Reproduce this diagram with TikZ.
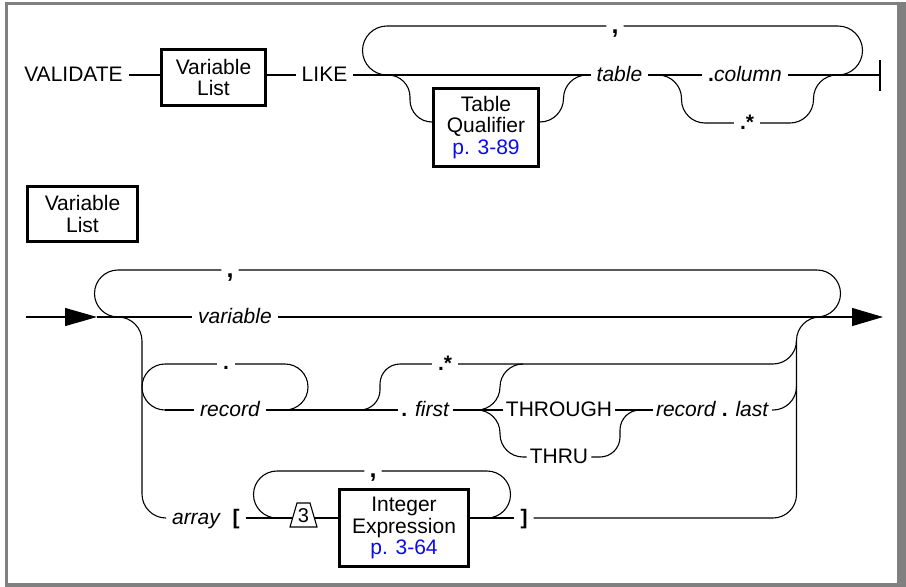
\documentclass[tikz,border=0pt]{standalone}
\usepackage{fontspec}
\setmainfont{Liberation Sans}
\usetikzlibrary{arrows.meta}
\definecolor{framegray}{RGB}{128,128,128}
\definecolor{linkblue}{RGB}{10,10,240}
\tikzset{
  lbl/.style={font=\fontsize{21}{21}\selectfont, inner xsep=6pt, inner ysep=0pt, text height=12pt, text depth=0pt},
  tight/.style={inner xsep=3pt},
  cma/.style={lbl, inner xsep=5pt, font=\fontsize{25}{25}\selectfont\bfseries},
  boxn/.style={draw, line width=3pt, align=center, font=\fontsize{21}{21.5}\selectfont, inner sep=0pt},
  wire/.style={line width=1.1pt},
  tipin/.style={-{Triangle[length=32pt,width=18pt]}}
}
\begin{document}
\begin{tikzpicture}[x=1pt,y=-1pt]
\useasboundingbox (0,0) rectangle (906,587);
\fill[white] (0,0) rectangle (906,587);
\fill[framegray] (5,2) rectangle (906,587);
\fill[white] (8,4.5) rectangle (897,583);

% ---------- Row 1 ----------
\node[lbl] (validate) at (73.5,75) {VALIDATE};
\node[boxn, minimum width=104, minimum height=56] (vl1) at (213.5,77.5) {Variable\\List};
\node[lbl] (like) at (324.5,75) {LIKE};
\node[boxn, minimum width=105, minimum height=78] (tq) at (486,127.5) {Table\\Qualifier\\\textcolor{linkblue}{p. 3-89}};
\node[cma] (c1) at (615,27) {,};
\node[lbl] (table) at (619.5,75) {\itshape table};
\node[lbl] (col) at (745,75) {\textbf{.}\textit{column}};
\node[lbl] (star1) at (747,123) {\textbf{.*}};
\coordinate (endbar) at (880,75);

\draw[wire] (validate.east) -- (validate.east -| vl1.west);
\draw[wire] (vl1.east |- like.west) -- (like.west);
\draw[wire] (like.east) -- (table.west);
\draw[wire] (table.east) -- (col.west);
\draw[wire] (col.east) -- (endbar);
\draw[line width=1.5pt] (880,60) -- (880,91);
% comma loop
\draw[wire] (387,75) arc[start angle=90,end angle=270,radius=24.5] -- (c1.west |- 0,26);
\draw[wire] (c1.east |- 0,26) -- (838,26) arc[start angle=-90,end angle=90,radius=24.5];
% table qualifier branch
\draw[wire] (388,75) arc[start angle=-90,end angle=0,radius=22] -- (410,100)
  arc[start angle=180,end angle=90,radius=22] -- ([yshift=5.5pt]tq.west);
\draw[wire] ([yshift=5.5pt]tq.east) -- (540,122) arc[start angle=90,end angle=0,radius=23.5]
  arc[start angle=180,end angle=270,radius=23.5];
% .* branch
\draw[wire] (658,75) arc[start angle=-90,end angle=0,radius=23.5] -- (681.5,99.5)
  arc[start angle=180,end angle=90,radius=23.5] -- (star1.west);
\draw[wire] (star1.east) -- (790,123) arc[start angle=90,end angle=0,radius=23.5] -- (813.5,98.5)
  arc[start angle=180,end angle=270,radius=23.5];

% ---------- Variable List definition ----------
\node[boxn, minimum width=110, minimum height=55] (vl2) at (82.5,214) {Variable\\List};

\coordinate (start) at (26,317);
\coordinate (entry) at (97,317);
\coordinate (exit) at (883,317);
\node[cma] (c2) at (230,271) {,};
\node[lbl] (var) at (235,317) {\itshape variable};
\draw[wire, tipin] (start) -- (entry);
\draw[wire] (entry) -- (var.west);
\draw[wire, -{Triangle[length=31pt,width=18pt]}] (var.east) -- (exit);
% comma loop
\draw[wire] (118,317) arc[start angle=90,end angle=270,radius=23.5] -- (c2.west |- 0,270);
\draw[wire] (c2.east |- 0,270) -- (817,270) arc[start angle=-90,end angle=90,radius=23.5];

% down branch to array
\node[lbl] (array) at (196,518) {\itshape array};
\draw[wire] (118,317) arc[start angle=-90,end angle=0,radius=24] -- (142,494)
  arc[start angle=180,end angle=90,radius=24] -- (array.west);

% record loop
\node[lbl] (dot) at (226,363) {\textbf{.}};
\node[lbl] (rec) at (230,410) {\itshape record};
\node[lbl, tight] (first) at (425.5,410) {\textbf{.} \textit{first}};
\draw[wire] (165,410) arc[start angle=90,end angle=270,radius=23] -- (dot.west |- 0,364);
\draw[wire] (dot.east |- 0,364) -- (285,364) arc[start angle=-90,end angle=90,radius=23];
\draw[wire] (165,410) -- (rec.west);
\draw[wire] (rec.east) -- (first.west);

% .* branch
\node[lbl] (star2) at (445,364) {\textbf{.*}};
\draw[wire] (360,410) arc[start angle=90,end angle=0,radius=20] -- (380,384)
  arc[start angle=180,end angle=270,radius=20] -- (star2.west);
\draw[wire] (star2.east) -- (773,364) arc[start angle=90,end angle=0,radius=23.5]
  arc[start angle=180,end angle=270,radius=23.5];

% THROUGH / THRU
\node[lbl, tight] (through) at (559,410) {THROUGH};
\node[lbl, tight] (thru) at (559,457) {THRU};
\node[lbl, tight] (last) at (712.5,410) {\textit{record} \textbf{.} \textit{last}};
\draw[wire] (first.east) -- (through.west);
\draw[wire] (477,410) arc[start angle=90,end angle=0,radius=23]
  arc[start angle=180,end angle=270,radius=23];
\draw[wire] (477,410) arc[start angle=-90,end angle=0,radius=23] -- (500,434)
  arc[start angle=180,end angle=90,radius=23] -- (thru.west);
\draw[wire] (thru.east) -- (600,457) arc[start angle=90,end angle=0,radius=20] -- (620,430)
  arc[start angle=180,end angle=270,radius=20];
\draw[wire] (through.east) -- (last.west);
\draw[wire] (last.east) -- (773,410) arc[start angle=90,end angle=0,radius=23.5];

% right return
\node[lbl] (rb) at (524,518) {\textbf{]}};
\draw[wire] (796.5,340.5) -- (796.5,494.5) arc[start angle=0,end angle=90,radius=23.5] -- (rb.east);

% array row
\node[lbl] (lb) at (236,518) {\textbf{[}};
\node[boxn, minimum width=129, minimum height=77] (ie) at (404,528) {Integer\\Expression\\\textcolor{linkblue}{p. 3-64}};
\node[cma] (c3) at (373,471) {,};
\coordinate (t3w) at (292.6,518);
\coordinate (t3e) at (314.4,518);
\draw[wire] (lb.east) -- (t3w);
\draw[wire, fill=white] (290,527) -- (297,503) -- (310,503) -- (317,527) -- cycle;
\node[font=\fontsize{20}{20}\selectfont, inner sep=0pt] (three) at (303.5,516) {3};
\draw[wire] (t3e) -- ([yshift=10pt]ie.west);
\draw[wire] ([yshift=10pt]ie.east) -- (rb.west);
\draw[wire] (277,518) arc[start angle=90,end angle=270,radius=23.5] -- (c3.west |- 0,471);
\draw[wire] (c3.east |- 0,471) -- (487,471) arc[start angle=-90,end angle=90,radius=23.5];
\end{tikzpicture}
\end{document}
